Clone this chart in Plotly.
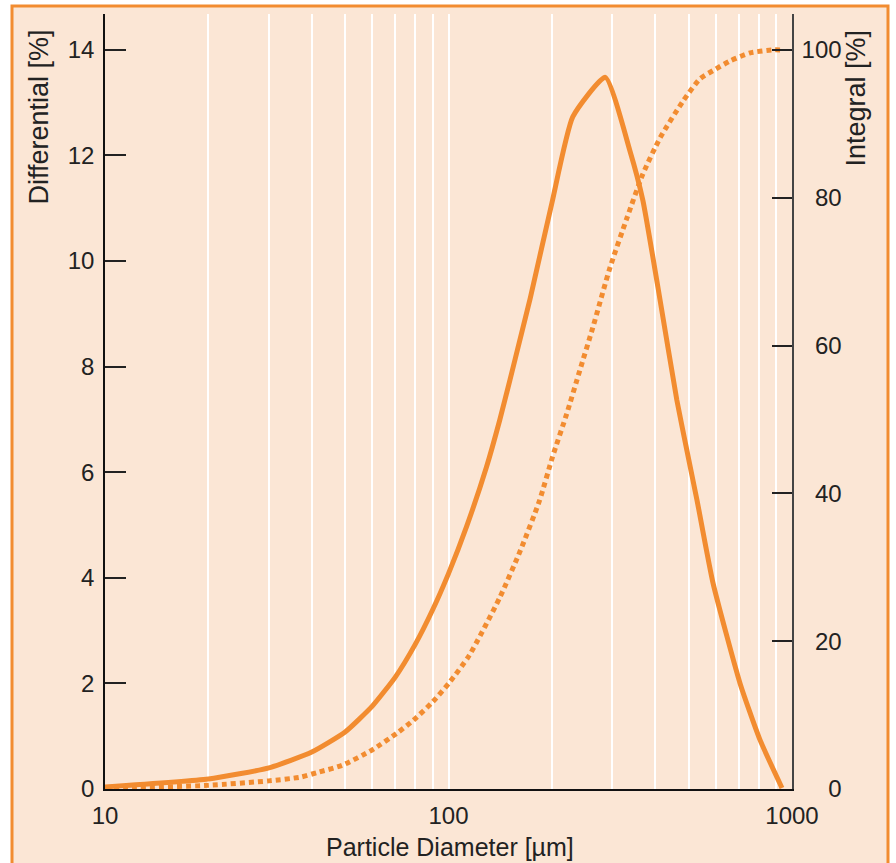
import plotly.graph_objects as go

# Differential distribution (left axis, %)
diam_diff = [10, 20, 30, 40, 50, 60, 70, 80, 90, 100, 113, 129, 141, 151, 162, 173,
             200, 230, 286, 337, 368, 413, 462, 494, 529, 589, 706, 807, 935]
diff_vals = [0.04, 0.19, 0.40, 0.70, 1.08, 1.57, 2.12, 2.74, 3.4, 4.08, 4.98, 6.1, 6.99, 7.75, 8.55, 9.3,
             11.1, 12.73, 13.48, 12.1, 11.15, 9.26, 7.37, 6.42, 5.47, 3.9, 2.0, 0.93, 0.02]

# Integral (cumulative) distribution (right axis, %)
diam_int = [10, 12, 20, 30, 37, 42, 49, 60, 71, 79, 90, 101, 115, 141, 162, 184, 201, 221, 241,
            263, 295, 331, 368, 413, 482, 540, 589, 660, 755, 875, 935]
int_vals = [0.1, 0.15, 0.5, 1.1, 1.6, 2.3, 3.2, 5.3, 7.6, 9.3, 11.8, 14.5, 18.1, 25.9, 32.3, 39.0, 45.0,
            50.8, 56.6, 62.4, 70.5, 77.3, 83.2, 88.1, 93.1, 96.1, 97.2, 98.5, 99.6, 100.0, 100.0]

x_major = [10, 100, 1000]
x_labels = ["10", "100", "1000"]
x_minor = [20, 30, 40, 50, 60, 70, 80, 90, 200, 300, 400, 500, 600, 700, 800, 900]
y_left_ticks = [0, 2, 4, 6, 8, 10, 12, 14]
y_right_ticks = [0, 20, 40, 60, 80, 100]
# right-axis labels are right-aligned in the reference: pad with figure spaces
y_right_labels = ["\u2007\u20070", "\u200720", "\u200740", "\u200760", "\u200780", "100"]

ORANGE = "#F28C30"
BG = "#FBE6D5"
FONT = "Liberation Sans, Arial, sans-serif"

W, H = 896, 863
L, R, T, B = 105, 792, 14, 789  # plot area in pixels


def px_x(p):
    return (p - L) / (R - L)


def px_y(p):
    return (B - p) / (B - T)


fig = go.Figure()
fig.add_trace(go.Scatter(x=diam_diff, y=diff_vals, mode="lines",
                         line=dict(color=ORANGE, width=5, shape="spline", smoothing=0.5),
                         yaxis="y", showlegend=False))
fig.add_trace(go.Scatter(x=diam_int, y=int_vals, mode="lines",
                         line=dict(color=ORANGE, width=5, dash="5px,4px", shape="spline", smoothing=0.6),
                         yaxis="y2", showlegend=False))

fig.update_layout(
    width=W, height=H,
    margin=dict(l=L, r=W - R, t=T, b=H - B, pad=0),
    paper_bgcolor="white",
    plot_bgcolor="rgba(0,0,0,0)",
    font=dict(family=FONT, size=24, color="#222"),
    xaxis=dict(type="log", range=[1, 3], tickvals=x_major, ticktext=x_labels,
               ticks="", showgrid=True, gridcolor="white", gridwidth=2,
               minor=dict(tickvals=x_minor, showgrid=True, gridcolor="white", gridwidth=2, ticks=""),
               showline=True, linecolor="#111", linewidth=1.5, zeroline=False,
               ticklabelstandoff=4, tickfont=dict(size=24, color="#222")),
    yaxis=dict(range=[0, 14.68], tickvals=y_left_ticks, ticks="inside", ticklen=21,
               tickwidth=1.5, tickcolor="#222", showgrid=False, zeroline=False,
               showline=True, linecolor="#111", linewidth=1.5, ticklabelstandoff=4,
               tickfont=dict(size=24, color="#222")),
    yaxis2=dict(range=[0, 104.86], tickvals=y_right_ticks, ticktext=y_right_labels,
                overlaying="y", side="right",
                ticks="inside", ticklen=20, tickwidth=1.5, tickcolor="#222", showgrid=False,
                zeroline=False, showline=True, linecolor="#444", linewidth=1.5, ticklabelstandoff=3,
                tickfont=dict(size=24, color="#222")),
    shapes=[dict(type="rect", xref="paper", yref="paper", layer="below",
                 x0=px_x(12), x1=px_x(888), y0=px_y(875), y1=px_y(6),
                 fillcolor=BG, line=dict(color=ORANGE, width=3))],
    annotations=[
        dict(text="Differential [%]", textangle=-90, xref="paper", yref="paper",
             x=px_x(38), y=px_y(28), xanchor="center", yanchor="top", showarrow=False,
             font=dict(size=27, color="#222")),
        dict(text="Integral [%]", textangle=-90, xref="paper", yref="paper",
             x=px_x(855), y=px_y(28), xanchor="center", yanchor="top", showarrow=False,
             font=dict(size=27, color="#222")),
        dict(text="Particle Diameter [µm]", xref="paper", yref="paper",
             x=px_x(450), y=px_y(847), xanchor="center", yanchor="middle", showarrow=False,
             font=dict(size=25, color="#222")),
    ],
)

fig.write_html("out.html")
